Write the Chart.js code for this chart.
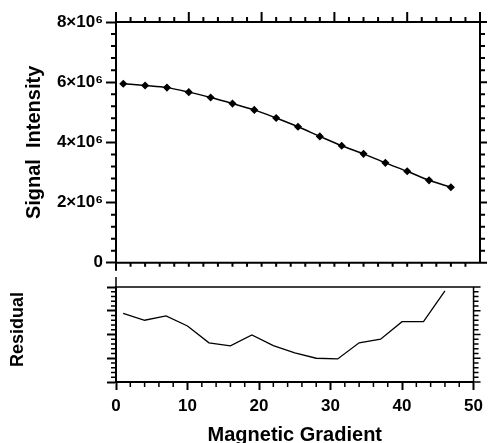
<!DOCTYPE html>
<html>
<head>
<meta charset="utf-8">
<script src="https://cdn.jsdelivr.net/npm/chart.js@4/dist/chart.umd.min.js"></script>
<style>
  body { margin: 0; background: #fff; }
  #wrap { position: relative; width: 489px; height: 443px; }
  canvas { position: absolute; left: 0; }
</style>
</head>
<body>
<div id="wrap">
  <canvas id="fitChart" width="489" height="276" style="top:0"></canvas>
  <canvas id="resChart" width="489" height="167" style="top:276px"></canvas>
</div>
<script>
// values
const gradient = [1, 4, 7, 10, 13, 16, 19, 22, 25, 28, 31, 34, 37, 40, 43, 46];
const signal = [5950000, 5890000, 5820000, 5670000, 5490000, 5290000, 5080000, 4810000,
                4520000, 4200000, 3890000, 3620000, 3320000, 3040000, 2740000, 2510000];
const residual = [0.89, 0.60, 0.78, 0.36, -0.35, -0.48, -0.02, -0.47,
                  -0.77, -1.00, -1.03, -0.35, -0.20, 0.54, 0.54, 1.84];
const xTicks = [0, 10, 20, 30, 40, 50];
const signalTicks = [0, 2000000, 4000000, 6000000, 8000000];

const FONT = "'Liberation Sans', Arial, sans-serif";
const black = '#000';

function sup6(v) {
  if (v === 0) return '0';
  return (v / 1e6) + '×10⁶';
}

// draws the minor ticks and the other sides of the boxes
function tick(ctx, x1, y1, x2, y2) { ctx.moveTo(x1, y1); ctx.lineTo(x2, y2); }

const topFrame = {
  id: 'topFrame',
  afterDraw(chart) {
    const { ctx, chartArea: a, scales: { x, y } } = chart;
    ctx.save();
    ctx.strokeStyle = black;
    ctx.lineWidth = 2;
    ctx.beginPath();
    tick(ctx, a.left - 1, a.top, a.right + 1, a.top);
    tick(ctx, a.right, a.top, a.right, a.bottom);
    tick(ctx, a.left - 1, a.bottom, a.right + 1, a.bottom);
    tick(ctx, a.left, a.bottom, a.left, a.bottom + 8);
    for (let i = 0; i <= 25; i++) {
      const px = x.getPixelForValue(i * 2);
      tick(ctx, px, a.top, px, a.top - (i % 5 === 0 ? 10 : 5));
      if (i > 0 && i < 25) tick(ctx, px, a.bottom, px, a.bottom + 4);
    }
    for (let i = 0; i <= 20; i++) {
      const py = y.getPixelForValue(i * 400000);
      if (i % 5 !== 0) tick(ctx, a.left, py, a.left - 5, py);
      tick(ctx, a.right, py, a.right + (i % 5 === 0 ? 7 : 5), py);
    }
    ctx.stroke();
    ctx.restore();
  }
};

const resFrame = {
  id: 'resFrame',
  afterDraw(chart) {
    const { ctx, chartArea: a, scales: { x, y } } = chart;
    ctx.save();
    ctx.strokeStyle = black;
    ctx.lineWidth = 2;
    ctx.beginPath();
    tick(ctx, a.left - 1, a.top, a.right + 1, a.top);
    tick(ctx, a.right, a.top, a.right, a.bottom);
    tick(ctx, a.left, a.top, a.left, a.top - 10);
    for (let i = 0; i <= 25; i++) {
      if (i % 5 === 0) continue;
      const px = x.getPixelForValue(i * 2);
      tick(ctx, px, a.bottom, px, a.bottom + 5);
    }
    ctx.lineWidth = 1.5;
    for (let i = 0; i <= 20; i++) {
      const py = y.getPixelForValue(-2 + i * 0.2);
      if (i % 5 !== 0) tick(ctx, a.left, py, a.left - 5, py);
      tick(ctx, a.right, py, a.right + (i % 5 === 0 ? 7 : 5), py);
    }
    ctx.stroke();
    ctx.restore();
  }
};

const fitChart = new Chart('fitChart', {
  type: 'line',
  data: {
    datasets: [{
      data: gradient.map((g, i) => ({ x: g, y: signal[i] })),
      borderColor: black,
      backgroundColor: black,
      borderWidth: 1.5,
      pointStyle: 'rectRot',
      pointRadius: 3,
      tension: 0.4,
      cubicInterpolationMode: 'monotone'
    }]
  },
  options: {
    responsive: false,
    animation: false,
    layout: { padding: { top: 22, right: 9, bottom: 11, left: 0 } },
    plugins: { legend: { display: false }, tooltip: { enabled: false } },
    scales: {
      x: { type: 'linear', min: 0, max: 50, display: false },
      y: {
        min: 0, max: 8000000,
        afterBuildTicks: s => { s.ticks = signalTicks.map(v => ({ value: v })); },
        afterFit: s => { s.width = 116; },
        ticks: { callback: sup6, color: black, padding: 3, font: { family: FONT, size: 17, weight: 'bold' } },
        grid: { drawOnChartArea: false, tickLength: 10, tickWidth: 2, tickColor: black },
        border: { color: black, width: 2 },
        title: {
          display: true, text: 'Signal  Intensity', color: black,
          padding: { top: 22 },
          font: { family: FONT, size: 20, weight: 'bold' }
        }
      }
    }
  },
  plugins: [topFrame]
});

const resChart = new Chart('resChart', {
  type: 'line',
  data: {
    datasets: [{
      data: gradient.map((g, i) => ({ x: g, y: residual[i] })),
      borderColor: black,
      borderWidth: 1.3,
      pointRadius: 0,
      tension: 0
    }]
  },
  options: {
    responsive: false,
    animation: false,
    layout: { padding: { top: 11, right: 13, bottom: 0, left: 0 } },
    plugins: { legend: { display: false }, tooltip: { enabled: false } },
    scales: {
      x: {
        type: 'linear', min: 0, max: 50,
        afterBuildTicks: s => { s.ticks = xTicks.map(v => ({ value: v })); },
        afterFit: s => { s.height = 61; },
        ticks: { color: black, padding: 6, font: { family: FONT, size: 17, weight: 'bold' } },
        grid: { drawOnChartArea: false, tickLength: 8, tickWidth: 2, tickColor: black },
        border: { color: black, width: 2 },
        title: {
          display: true, text: 'Magnetic Gradient', color: black,
          padding: { top: 0, bottom: 0 },
          font: { family: FONT, size: 20, weight: 'bold', lineHeight: 0.8 }
        }
      },
      y: {
        min: -2, max: 2,
        afterBuildTicks: s => { s.ticks = [-2, -1, 0, 1, 2].map(v => ({ value: v })); },
        afterFit: s => { s.width = 116; },
        ticks: { display: false },
        grid: { drawOnChartArea: false, tickLength: 9, tickWidth: 2, tickColor: black },
        border: { color: black, width: 2 },
        title: {
          display: true, text: '  Residual', color: black,
          padding: { top: 7.5 },
          font: { family: FONT, size: 18, weight: 'bold' }
        }
      }
    }
  },
  plugins: [resFrame]
});
</script>
</body>
</html>
